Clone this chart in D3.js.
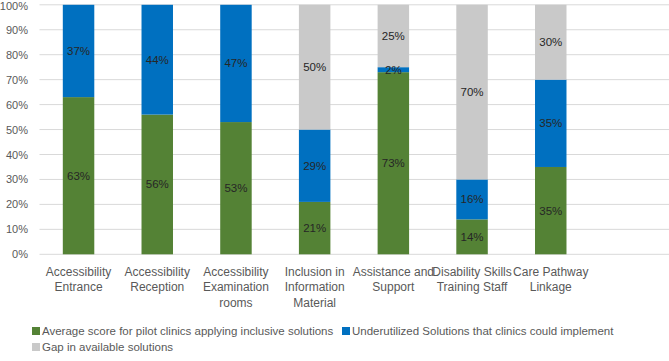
<html>
<head>
<meta charset="utf-8">
<script src="https://d3js.org/d3.v7.min.js"></script>
<style>
body{margin:0;background:#fff;}
text{font-family:"Liberation Sans",Arial,sans-serif;}
</style>
</head>
<body>
<script>
var categories = [["Accessibility","Entrance"],["Accessibility","Reception"],["Accessibility","Examination","rooms"],["Inclusion in","Information","Material"],["Assistance and","Support"],["Disability Skills","Training Staff"],["Care Pathway","Linkage"]];
var applied = [63,56,53,21,73,14,35];
var underused = [37,44,47,29,2,16,35];
var gap = [0,0,0,50,25,70,30];
var seriesNames = ["Average score for pilot clinics applying inclusive solutions","Underutilized Solutions that clinics could implement","Gap in available solutions"];
var colors = ["#548235","#0070C0","#C9C9C9"];
var yTicks = [0,10,20,30,40,50,60,70,80,90,100];

var W = 669, H = 361;
var svg = d3.select("body").append("svg").attr("width",W).attr("height",H);

var x = d3.scaleBand().domain(d3.range(categories.length))
          .range([39.2, 590.1]).paddingInner(0.6).paddingOuter(0.3);
var y = d3.scaleLinear().domain([0,100]).range([254.3,4.8]);

// gridlines
svg.append("g").selectAll("line").data(yTicks).enter().append("line")
   .attr("x1",39.5).attr("x2",W)
   .attr("y1",function(d){return y(d);}).attr("y2",function(d){return y(d);})
   .attr("stroke","#D9D9D9").attr("stroke-width",1);

// y labels
svg.append("g").selectAll("text").data(yTicks).enter().append("text")
   .attr("x",28).attr("y",function(d){return Math.max(y(d)+4,10);})
   .attr("text-anchor","end").attr("font-size",11).attr("fill","#595959")
   .text(function(d){return d+"%";});

var rows = categories.map(function(c,i){return {i:i,vals:[applied[i],underused[i],gap[i]]};});
var stack = d3.stack().keys([0,1,2]).value(function(d,k){return d.vals[k];});
var layers = stack(rows);

var lg = svg.append("g").selectAll("g").data(layers).enter().append("g")
   .attr("fill",function(d,k){return colors[k];});
lg.selectAll("rect").data(function(d){return d;}).enter().append("rect")
   .attr("x",function(d){return x(d.data.i);})
   .attr("width",x.bandwidth())
   .attr("y",function(d){return y(d[1]);})
   .attr("height",function(d){return y(d[0])-y(d[1]);});

// data labels
layers.forEach(function(layer,k){
  svg.append("g").selectAll("text").data(layer.filter(function(d){return d[1]-d[0]>0;})).enter().append("text")
    .attr("x",function(d){return x(d.data.i)+x.bandwidth()/2;})
    .attr("y",function(d){return y((d[0]+d[1])/2)+4;})
    .attr("text-anchor","middle").attr("font-size",11.5).attr("fill","#262626")
    .text(function(d){return (d[1]-d[0])+"%";});
});

// category labels
var cl = svg.append("g").selectAll("text").data(categories).enter().append("text")
   .attr("x",function(d,i){return x(i)+x.bandwidth()/2;})
   .attr("y",276)
   .attr("text-anchor","middle").attr("font-size",12).attr("fill","#595959");
cl.selectAll("tspan").data(function(d){return d;}).enter().append("tspan")
   .attr("x",function(){return d3.select(this.parentNode).attr("x");})
   .attr("dy",function(d,j){return j===0?0:15.3;})
   .text(function(d){return d;});

// legend
var legendPos = [[32,331],[342,331],[32,347]];
var leg = svg.append("g").selectAll("g").data(seriesNames).enter().append("g")
   .attr("transform",function(d,i){return "translate("+legendPos[i][0]+","+legendPos[i][1]+")";});
leg.append("rect").attr("x",0).attr("y",-4).attr("width",8).attr("height",8)
   .attr("fill",function(d,i){return colors[i];});
leg.append("text").attr("x",10).attr("y",4).attr("font-size",11.5).attr("fill","#595959")
   .text(function(d){return d;});
</script>
</body>
</html>
